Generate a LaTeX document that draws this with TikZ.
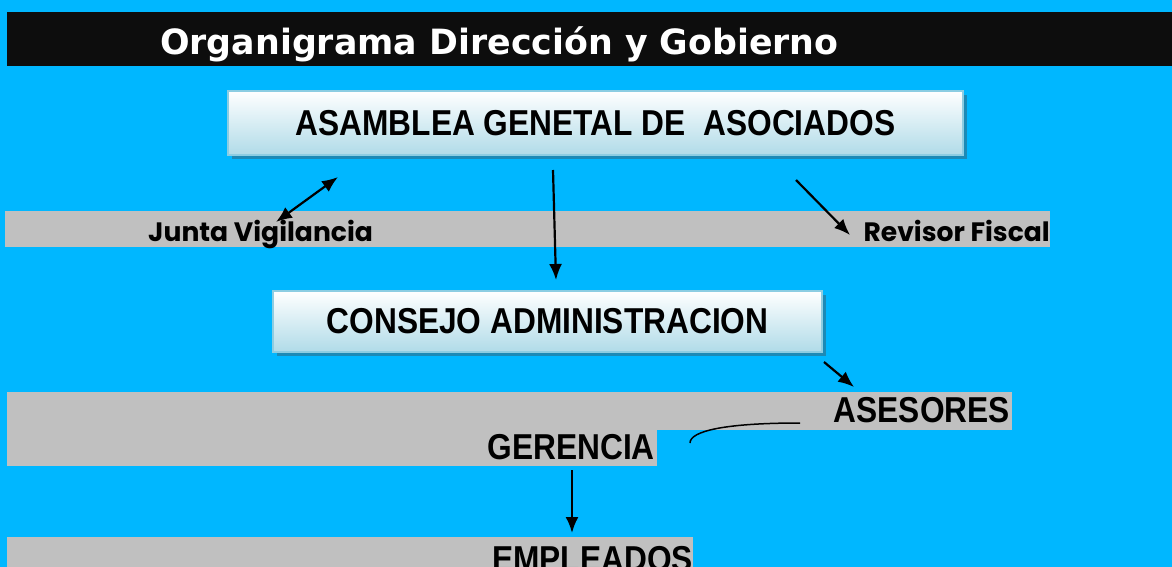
\documentclass[tikz,border=0pt]{standalone}
\usepackage{graphicx}
\usepackage{fontspec}
\setmainfont{Liberation Sans}
\newfontfamily\titlefont{DejaVu Sans}
\newfontfamily\gothfont{Poppins}
\usetikzlibrary{arrows.meta,shadows}

\definecolor{bgblue}{RGB}{0,183,255}
\definecolor{barblack}{RGB}{13,13,13}
\definecolor{bandgray}{RGB}{192,192,192}
\definecolor{boxedge}{RGB}{140,205,226}
\definecolor{boxblue}{RGB}{176,219,232}
\definecolor{shadeblue}{RGB}{28,138,182}

\newcommand{\narrowtxt}[1]{\scalebox{0.88}[1]{#1}}

\tikzset{
  orgbox/.style={draw=boxedge, line width=2pt, top color=white, bottom color=boxblue,
    inner sep=0pt, font=\fontsize{36}{36}\selectfont\bfseries,
    drop shadow={shadow xshift=4pt, shadow yshift=-4pt, fill=shadeblue, opacity=1}},
  bandtxt/.style={inner sep=0pt, font=\fontsize{36}{36}\selectfont\bfseries},
  sidetxt/.style={inner sep=0pt, font=\gothfont\fontsize{26.6}{26.6}\selectfont\bfseries},
  arr/.style={line width=2.2pt, -{Latex[length=16pt,width=13pt]}},
}

\begin{document}
\begin{tikzpicture}[x=1pt, y=-1pt]

  % Background
  \fill[bgblue] (0,0) rectangle (1172,567);
  \useasboundingbox (0,0) rectangle (1172,567);

  % Title
  \fill[barblack] (7,12) rectangle (1172,66);
  \node[anchor=base west, inner sep=0pt, text=white,
        font=\titlefont\fontsize{34.8}{34.8}\selectfont\bfseries] (title) at (160,55)
        {Organigrama Dirección y Gobierno};

  % Gray bands
  \fill[bandgray] (5,211) rectangle (1050,247);
  \fill[bandgray] (7,392) rectangle (1012,430);
  \fill[bandgray] (7,392) rectangle (657,466);
  \fill[bandgray] (7,537) rectangle (693,567);

  % Boxes
  \node[orgbox, minimum width=735pt, minimum height=64pt] (asamblea) at (595.5,123)
        {\narrowtxt{ASAMBLEA GENETAL DE\ \ ASOCIADOS}};
  \node[orgbox, minimum width=549pt, minimum height=61pt] (consejo) at (547.5,321.5)
        {\narrowtxt{CONSEJO ADMINISTRACION}};

  % Band labels
  \node[sidetxt, anchor=base west] (junta) at (148,241) {Junta Vigilancia};
  \node[sidetxt, anchor=base east] (revisor) at (1050,241) {Revisor Fiscal};
  \node[bandtxt, anchor=base east] (asesores) at (1010,422) {\narrowtxt{ASESORES}};
  \node[bandtxt, anchor=base east] (gerencia) at (655,459) {\narrowtxt{GERENCIA}};
  \node[bandtxt, anchor=base east] (empleados) at (693,571) {\narrowtxt{EMPLEADOS}};

  % Connector ends
  \coordinate (jv-a) at (338,177);
  \coordinate (jv-b) at (276,222);
  \coordinate (as-out) at (553,170);
  \coordinate (co-in) at (556,280);
  \coordinate (rf-a) at (796,180);
  \coordinate (rf-b) at (850,235);
  \coordinate (co-out) at (824,362);
  \coordinate (ase-in) at (854,387);
  \coordinate (ase-c) at (800,423);
  \coordinate (ger-c) at (690,443);
  \coordinate (ger-out) at (572,470);
  \coordinate (emp-in) at (572,533);

  % Connectors
  \draw[arr, {Latex[length=16pt,width=13pt]}-{Latex[length=16pt,width=13pt]}] (jv-b) -- (jv-a);
  \draw[arr] (as-out) -- (co-in);
  \draw[arr] (rf-a) -- (rf-b);
  \draw[arr] (co-out) -- (ase-in);
  \draw[line width=1.5pt] (ase-c) .. controls (725,423) and (690,431) .. (ger-c);
  \draw[arr] (ger-out) -- (emp-in);

\end{tikzpicture}
\end{document}
